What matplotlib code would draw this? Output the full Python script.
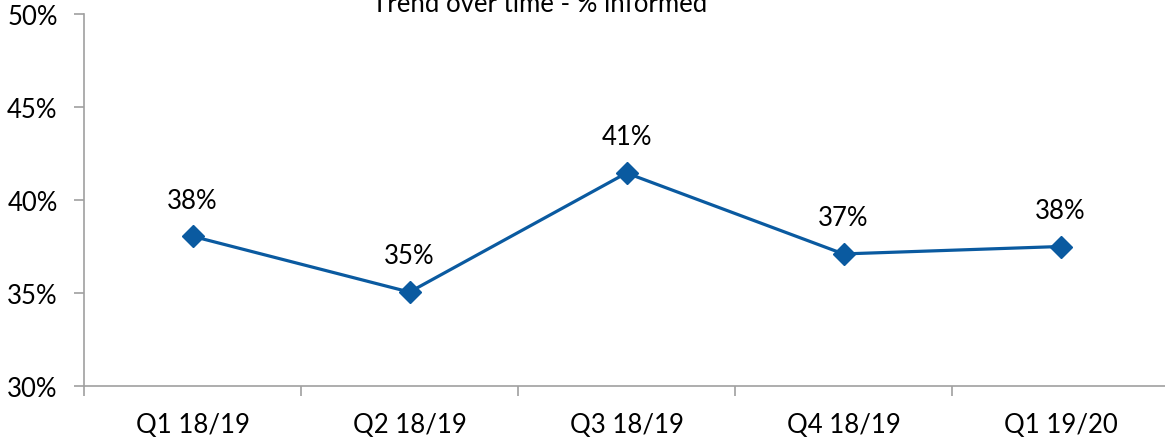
import matplotlib
matplotlib.use('Agg')
import matplotlib.pyplot as plt
from matplotlib.ticker import FixedLocator, NullFormatter

plt.rcParams['font.family'] = ['Lato', 'DejaVu Sans']

# Данные графика
quarters = ['Q1 18/19', 'Q2 18/19', 'Q3 18/19', 'Q4 18/19', 'Q1 19/20']
informed = [38.05, 35.05, 41.45, 37.1, 37.5]
point_labels = ['38%', '35%', '41%', '37%', '38%']
y_ticks = [30, 35, 40, 45, 50]

W, H = 1165, 439
fig = plt.figure(figsize=(W / 100, H / 100), dpi=100)
# область осей: слева 84px, справа выходит за край картинки
ax = fig.add_axes([84 / W, (H - 387) / H, (1169 - 84) / W, (387 - 15) / H])

line_color = '#0A5AA0'
axis_color = '#A0A0A0'
fs = 18.5

x = list(range(len(quarters)))
ax.plot(x, informed, color=line_color, linewidth=2.3, marker='D', markersize=11.5,
        markeredgecolor=line_color, markerfacecolor=line_color, clip_on=False, zorder=3)

for xi, yi, lab in zip(x, informed, point_labels):
    ax.annotate(lab, (xi, yi), xytext=(0, 17), textcoords='offset points',
                ha='center', va='bottom', fontsize=fs, color='black')

ax.set_xlim(-0.5, len(quarters) - 0.5)
ax.set_ylim(30, 50)

# ось Y
ax.set_yticks(y_ticks)
ax.set_yticklabels([f'{t}%' for t in y_ticks], fontsize=fs)
# ось X: подписи по центру, засечки между категориями
ax.set_xticks(x)
ax.set_xticklabels(quarters, fontsize=fs)
ax.tick_params(axis='x', which='major', length=0, pad=19)
ax.xaxis.set_minor_locator(FixedLocator([i - 0.5 for i in range(len(quarters) + 1)]))
ax.xaxis.set_minor_formatter(NullFormatter())
ax.tick_params(axis='x', which='minor', length=7, color=axis_color, width=1.2, direction='out')
ax.tick_params(axis='y', length=7, color=axis_color, width=1.2, pad=12, direction='out')

for side in ['top', 'right']:
    ax.spines[side].set_visible(False)
for side in ['left', 'bottom']:
    ax.spines[side].set_color(axis_color)
    ax.spines[side].set_linewidth(1.2)

# заголовок обрезан сверху, как на исходнике
fig.text(540 / W, (H - 12) / H, 'Trend over time - % informed', ha='center', va='baseline',
         fontsize=fs, color='black')

fig.savefig('out.png', dpi=100)
